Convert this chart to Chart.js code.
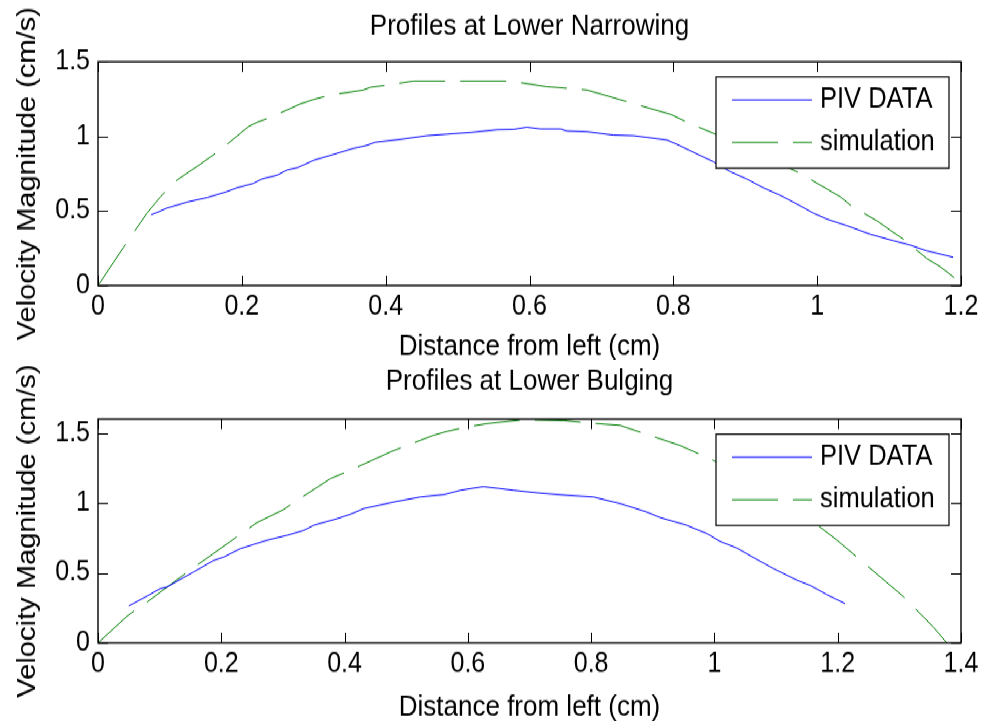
<!DOCTYPE html>
<html>
<head>
<meta charset="utf-8">
<script src="https://cdn.jsdelivr.net/npm/chart.js@4.4.1/dist/chart.umd.min.js"></script>
<style>
  html, body { margin: 0; padding: 0; background: #fff; overflow: hidden; }
  /* the original figure is stretched vertically, so is this one */
  #fig { position: absolute; left: 0; top: 0; width: 985px; height: 644px;
         transform: scale(1, 1.12); transform-origin: 0 0; }
  canvas { display: block; }
</style>
</head>
<body>
<div id="fig">
  <canvas id="topChart" width="985" height="321"></canvas>
  <canvas id="bottomChart" width="985" height="323"></canvas>
</div>
<script>
// ---- data: Profiles at Lower Narrowing ----
const narrowPivX = [0.074, 0.082, 0.096, 0.124, 0.152, 0.179, 0.193, 0.216, 0.228, 0.249, 0.263, 0.277, 0.300, 0.328, 0.355, 0.374, 0.385, 0.420, 0.457, 0.485, 0.520, 0.555, 0.578, 0.596, 0.615, 0.643, 0.652, 0.680, 0.717, 0.745, 0.763, 0.791, 0.809, 0.833, 0.856, 0.879, 0.902, 0.925, 0.948, 0.976, 0.995, 1.013, 1.041, 1.074, 1.106, 1.129, 1.152, 1.189];
const narrowPivY = [0.475, 0.49, 0.52, 0.56, 0.59, 0.63, 0.655, 0.685, 0.715, 0.74, 0.775, 0.79, 0.84, 0.88, 0.92, 0.94, 0.96, 0.98, 1.005, 1.015, 1.027, 1.045, 1.047, 1.062, 1.05, 1.05, 1.036, 1.031, 1.009, 1.005, 0.994, 0.976, 0.938, 0.882, 0.83, 0.764, 0.715, 0.656, 0.607, 0.536, 0.485, 0.447, 0.402, 0.344, 0.301, 0.272, 0.234, 0.19];
const narrowSimX = [0, 0.036, 0.068, 0.087, 0.1005, 0.110, 0.142, 0.170, 0.209, 0.221, 0.240, 0.281, 0.300, 0.323, 0.369, 0.379, 0.402, 0.439, 0.5, 0.559, 0.573, 0.624, 0.680, 0.717, 0.796, 0.823, 0.856, 0.9, 0.94, 0.976, 1.032, 1.050, 1.083, 1.101, 1.120, 1.152, 1.171, 1.189, 1.2];
const narrowSimY = [0, 0.26, 0.485, 0.596, 0.663, 0.708, 0.813, 0.909, 1.065, 1.094, 1.128, 1.217, 1.248, 1.277, 1.311, 1.329, 1.344, 1.371, 1.371, 1.371, 1.371, 1.333, 1.311, 1.259, 1.148, 1.087, 1.02, 0.93, 0.835, 0.753, 0.596, 0.525, 0.435, 0.373, 0.311, 0.183, 0.127, 0.06, 0.01];
const narrowXTicks = [0, 0.2, 0.4, 0.6, 0.8, 1, 1.2];
const narrowXLabels = ['0', '0.2', '0.4', '0.6', '0.8', '1', '1.2'];
const narrowYTicks = [0, 0.5, 1, 1.5];
const narrowYLabels = ['0', '0.5', '1', '1.5'];

// ---- data: Profiles at Lower Bulging ----
const bulgePivX = [0.050, 0.080, 0.101, 0.112, 0.155, 0.188, 0.204, 0.231, 0.252, 0.274, 0.307, 0.334, 0.350, 0.388, 0.409, 0.431, 0.485, 0.523, 0.561, 0.588, 0.625, 0.650, 0.674, 0.717, 0.761, 0.804, 0.847, 0.890, 0.912, 0.955, 0.988, 1.009, 1.036, 1.074, 1.096, 1.134, 1.155, 1.182, 1.212];
const bulgePivY = [0.264, 0.336, 0.388, 0.40, 0.507, 0.59, 0.614, 0.674, 0.703, 0.734, 0.769, 0.805, 0.841, 0.888, 0.919, 0.96, 1.012, 1.043, 1.06, 1.091, 1.117, 1.104, 1.091, 1.071, 1.055, 1.043, 0.996, 0.936, 0.896, 0.841, 0.781, 0.726, 0.679, 0.584, 0.531, 0.448, 0.412, 0.346, 0.281];
const bulgeSimX = [0, 0.047, 0.055, 0.080, 0.134, 0.155, 0.215, 0.236, 0.258, 0.301, 0.323, 0.377, 0.409, 0.474, 0.501, 0.523, 0.544, 0.566, 0.598, 0.631, 0.690, 0.755, 0.798, 0.847, 0.890, 0.944, 0.998, 1.05, 1.10, 1.14, 1.171, 1.199, 1.231, 1.285, 1.307, 1.339, 1.355, 1.377];
const bulgeSimY = [0, 0.19, 0.217, 0.293, 0.471, 0.538, 0.726, 0.793, 0.86, 0.953, 1.019, 1.174, 1.234, 1.364, 1.412, 1.448, 1.484, 1.512, 1.543, 1.567, 1.596, 1.59, 1.571, 1.555, 1.491, 1.412, 1.305, 1.19, 1.06, 0.93, 0.829, 0.734, 0.614, 0.412, 0.329, 0.186, 0.114, 0];
const bulgeXTicks = [0, 0.2, 0.4, 0.6, 0.8, 1, 1.2, 1.4];
const bulgeXLabels = ['0', '0.2', '0.4', '0.6', '0.8', '1', '1.2', '1.4'];
const bulgeYTicks = [0, 0.5, 1, 1.5];
const bulgeYLabels = ['0', '0.5', '1', '1.5'];

const seriesNames = ['PIV DATA', 'simulation'];
const FONT = '"Liberation Sans", Arial, Helvetica, sans-serif';

function pts(xs, ys) { return xs.map((x, i) => ({x: x, y: ys[i]})); }

// matlab style box, inner tick marks and legend
const matlabAxes = {
  id: 'matlabAxes',
  afterDatasetsDraw(chart) {
    const {ctx, chartArea: a, scales} = chart;
    ctx.save();
    ctx.strokeStyle = '#000';
    ctx.lineWidth = 1;
    ctx.setLineDash([]);
    ctx.beginPath();
    scales.x.ticks.forEach(t => {
      const px = Math.round(scales.x.getPixelForValue(t.value)) + 0.5;
      ctx.moveTo(px, a.bottom); ctx.lineTo(px, a.bottom - 9);
      ctx.moveTo(px, a.top); ctx.lineTo(px, a.top + 9);
    });
    scales.y.ticks.forEach(t => {
      const py = Math.round(scales.y.getPixelForValue(t.value)) + 0.5;
      ctx.moveTo(a.left, py); ctx.lineTo(a.left + 10, py);
      ctx.moveTo(a.right, py); ctx.lineTo(a.right - 10, py);
    });
    ctx.stroke();
    ctx.lineWidth = 1.4;
    ctx.strokeRect(a.left, a.top, a.right - a.left, a.bottom - a.top);

    // legend
    const w = 233, h = 81.5;
    const lx = a.right - 245, ly = a.top + 13.5;
    ctx.fillStyle = '#fff';
    ctx.fillRect(lx, ly, w, h);
    ctx.lineWidth = 1.2;
    ctx.strokeRect(lx, ly, w, h);
    ctx.font = '25.5px ' + FONT;
    ctx.textBaseline = 'middle';
    ctx.textAlign = 'left';
    chart.data.datasets.forEach((ds, i) => {
      const ry = ly + 20.5 + i * 38;
      ctx.strokeStyle = ds.borderColor;
      ctx.lineWidth = 1;
      ctx.setLineDash(ds.borderDash || []);
      ctx.beginPath();
      ctx.moveTo(lx + 16, ry); ctx.lineTo(lx + 96, ry);
      ctx.stroke();
      ctx.fillStyle = '#000';
      ctx.fillText(ds.label, lx + 104, ry);
    });
    ctx.restore();
  }
};

function makeChart(id, title, titlePad, xHeight, xTitlePad, piv, sim, xt, xl, yt, yl, xmax, ymax) {
  return new Chart(document.getElementById(id), {
    type: 'line',
    data: {
      datasets: [
        { label: seriesNames[0], data: piv, borderColor: 'rgb(0,0,255)', borderWidth: 1,
          pointRadius: 0, tension: 0, fill: false },
        { label: seriesNames[1], data: sim, borderColor: 'rgb(0,128,0)', borderWidth: 1,
          borderDash: [46, 15], pointRadius: 0, tension: 0, fill: false }
      ]
    },
    options: {
      responsive: false,
      animation: false,
      devicePixelRatio: 1,
      layout: { padding: { left: 0, right: 24, top: 0, bottom: 0 } },
      plugins: {
        legend: { display: false },
        tooltip: { enabled: false },
        title: {
          display: true, text: title, color: '#000', fullSize: false,
          font: { family: FONT, size: 26, weight: 'normal' },
          padding: titlePad
        }
      },
      scales: {
        x: {
          type: 'linear', min: 0, max: xmax,
          grid: { display: false, drawTicks: false },
          border: { display: false },
          afterBuildTicks: s => { s.ticks = xt.map(v => ({value: v})); },
          afterFit: s => { s.height = xHeight; },
          ticks: {
            color: '#000', padding: 4, maxRotation: 0,
            font: { family: FONT, size: 25 },
            callback: (v, i) => xl[i]
          },
          title: {
            display: true, text: 'Distance from left (cm)', color: '#000',
            font: { family: FONT, size: 26, lineHeight: 0.85 },
            padding: { top: 0, bottom: xTitlePad }
          }
        },
        y: {
          type: 'linear', min: 0, max: ymax,
          grid: { display: false, drawTicks: false },
          border: { display: false },
          afterBuildTicks: s => { s.ticks = yt.map(v => ({value: v})); },
          afterFit: s => { s.width = 98; },
          ticks: {
            color: '#000', padding: 8,
            font: { family: FONT, size: 25 },
            callback: (v, i) => yl[i]
          },
          title: {
            display: true, text: 'Velocity Magnitude (cm/s)', color: '#000',
            font: { family: FONT, size: 26 },
            padding: { top: 12, bottom: 0 }
          }
        }
      }
    },
    plugins: [matlabAxes]
  });
}

makeChart('topChart', 'Profiles at Lower Narrowing', { top: 8, bottom: 16 }, 66, 0,
  pts(narrowPivX, narrowPivY), pts(narrowSimX, narrowSimY),
  narrowXTicks, narrowXLabels, narrowYTicks, narrowYLabels, 1.2, 1.5);

makeChart('bottomChart', 'Profiles at Lower Bulging', { top: 4, bottom: 18 }, 70, 1.5,
  pts(bulgePivX, bulgePivY), pts(bulgeSimX, bulgeSimY),
  bulgeXTicks, bulgeXLabels, bulgeYTicks, bulgeYLabels, 1.4, 1.6);
</script>
</body>
</html>
